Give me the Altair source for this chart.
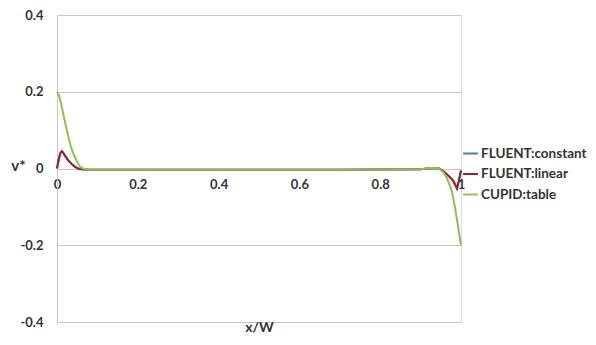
import altair as alt
import pandas as pd

# CUPID:table
green_x = [0, 0.005, 0.01, 0.015, 0.02, 0.025, 0.03, 0.035, 0.04, 0.045, 0.05, 0.055, 0.06, 0.07, 0.08, 0.1,
           0.3, 0.5, 0.7, 0.9, 0.93, 0.945, 0.955, 0.964, 0.97, 0.977, 0.985, 0.993, 1.0]
green_y = [0.2, 0.19, 0.17, 0.145, 0.12, 0.097, 0.075, 0.055, 0.04, 0.028, 0.017, 0.008, 0.002, -0.002, -0.003, -0.003,
           -0.003, -0.003, -0.003, -0.002, 0.002, 0.0, -0.008, -0.023, -0.038, -0.057, -0.1, -0.153, -0.2]

# FLUENT:linear
red_x = [0, 0.004, 0.008, 0.012, 0.016, 0.02, 0.028, 0.036, 0.044, 0.052, 0.06, 0.08, 0.1,
         0.3, 0.5, 0.7, 0.9, 0.93, 0.945, 0.955, 0.964, 0.972, 0.98, 0.986, 0.99, 0.994, 1.0]
red_y = [0.0, 0.022, 0.04, 0.045, 0.04, 0.033, 0.021, 0.012, 0.005, 0.0, -0.002, -0.003, -0.003,
         -0.003, -0.003, -0.003, -0.002, 0.001, 0.0, -0.006, -0.014, -0.022, -0.031, -0.043, -0.052, -0.035, -0.005]

# FLUENT:constant (hidden under FLUENT:linear)
blue_x = red_x
blue_y = red_y

series_names = ["FLUENT:constant", "FLUENT:linear", "CUPID:table"]
series_colors = ["#4a7eb0", "#a0202c", "#92c050"]

x_ticks = [0, 0.2, 0.4, 0.6, 0.8, 1]
y_ticks = [-0.4, -0.2, 0, 0.2, 0.4]

rows = []
for i, (xs, ys) in enumerate([(blue_x, blue_y), (red_x, red_y), (green_x, green_y)]):
    for j, (a, b) in enumerate(zip(xs, ys)):
        rows.append({"x": a, "y": b, "series": series_names[i], "order": i, "idx": j})
df = pd.DataFrame(rows)

FONT = "Lato"
W, H = 404, 307
LBL = "datum.value == 0 ? '0' : datum.value == 1 ? '1' : (datum.value < 0 ? '-' + format(-datum.value, '.1f') : format(datum.value, '.1f'))"

xscale = alt.Scale(domain=[0, 1], nice=False, zero=False)
yscale = alt.Scale(domain=[-0.4, 0.4], nice=False)

lines = alt.Chart(df).mark_line(strokeWidth=2).encode(
    x=alt.X("x:Q", scale=xscale,
            axis=alt.Axis(values=x_ticks, grid=False, domain=False, ticks=False,
                          labelFontSize=13, labelFontWeight="bold", labelColor="#333333",
                          labelFont=FONT, labelPadding=10, offset=-H / 2,
                          labelFlush=False, labelExpr=LBL,
                          title="x/W", titleFont=FONT, titleFontSize=14, titleFontWeight="bold",
                          titleColor="#333333", titleY=152)),
    y=alt.Y("y:Q", scale=yscale,
            axis=alt.Axis(values=y_ticks, grid=True, gridColor="#c8c8c8", gridWidth=1,
                          domain=True, domainColor="#c8c8c8", ticks=False,
                          labelFontSize=13, labelFontWeight="bold", labelColor="#333333",
                          labelFont=FONT, labelPadding=14, labelExpr=LBL,
                          title="v*", titleAngle=0, titleAlign="center", titleFont=FONT, titleFontSize=15,
                          titleFontWeight="bold", titleColor="#333333", titleX=-39, titleY=H / 2 + 5)),
    color=alt.Color("series:N", sort=series_names,
                    scale=alt.Scale(domain=series_names, range=series_colors),
                    legend=alt.Legend(title=None, orient="none", legendX=405, legendY=130,
                                      symbolType="stroke", symbolSize=220, symbolStrokeWidth=2,
                                      labelFont=FONT, labelFontSize=13.5, labelFontWeight="bold",
                                      labelColor="#333333", rowPadding=5.5, labelOffset=2)),
    detail="order:N",
    order="idx:Q",
)

chart = lines.properties(
    width=W, height=H,
    autosize=alt.AutoSizeParams(type="none"),
    padding={"left": 49, "top": 7, "right": 126, "bottom": 14},
).configure_view(stroke=None).configure(background="white")

chart.save("out.html", embed_options={"renderer": "svg", "actions": False})
